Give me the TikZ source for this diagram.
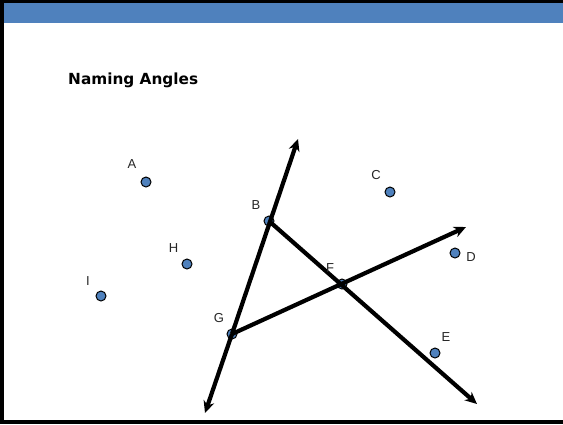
\documentclass[tikz,border=0pt]{standalone}
\usepackage{fontspec}
\setmainfont{Liberation Sans}
\newfontfamily\titlefont{DejaVu Sans}
\usetikzlibrary{arrows.meta}
\definecolor{barblue}{HTML}{4F81BD}
\definecolor{dotblue}{HTML}{4F81BD}
\begin{document}
\begin{tikzpicture}[x=1pt,y=-1pt,
  pt/.style={circle,draw=black,line width=1pt,fill=dotblue,minimum size=10pt,inner sep=0pt},
  lbl/.style={font=\fontsize{13}{13}\selectfont,text=black!85,inner sep=0pt},
  ray/.style={line width=4.2pt,draw=black},
  rayarrow/.style={ray,-{Stealth[length=12pt,width=11pt]}}]
\useasboundingbox (0,0) rectangle (563,424);
\fill[white] (0,0) rectangle (563,424);
% frame
\fill[barblue] (0,2) rectangle (563,23);
\fill[black] (0,0) rectangle (563,2.5);
\fill[black] (0,0) rectangle (4,424);
\fill[black] (0,420) rectangle (563,424);
% title
\node[anchor=base west,inner sep=0pt,font=\titlefont\bfseries\fontsize{15.3}{15.3}\selectfont] (title) at (68,84) {Naming Angles};
% tips
\coordinate (Gtop) at (298,139);
\coordinate (Gbot) at (205,413);
\coordinate (Bend) at (477,404);
\coordinate (Fend) at (466,227);
% points
\node[pt] (G) at (232,334) {};
\node[pt] (B) at (269,221) {};
\node[pt] (F) at (342,284) {};
% rays
\draw[rayarrow] (G.center) -- (Gtop);
\draw[rayarrow] (G.center) -- (Gbot);
\draw[rayarrow] (B.center) -- (Bend);
\draw[rayarrow] (G.center) -- (Fend);
% other points
\node[pt] (A) at (146,182) {};
\node[pt] (H) at (187,264) {};
\node[pt] (I) at (101,296) {};
\node[pt] (C) at (390,192) {};
\node[pt] (D) at (455,253) {};
\node[pt] (E) at (435,353) {};
% labels
\node[lbl] (lA) at (132,164.5) {A};
\node[lbl] (lH) at (173.5,248) {H};
\node[lbl] (lI) at (88,281) {I};
\node[lbl] (lC) at (376,175) {C};
\node[lbl] (lD) at (471,257) {D};
\node[lbl] (lE) at (446,337) {E};
\node[lbl] (lB) at (256,205) {B};
\node[lbl] (lF) at (330,268) {F};
\node[lbl] (lG) at (219,318) {G};
\end{tikzpicture}
\end{document}
